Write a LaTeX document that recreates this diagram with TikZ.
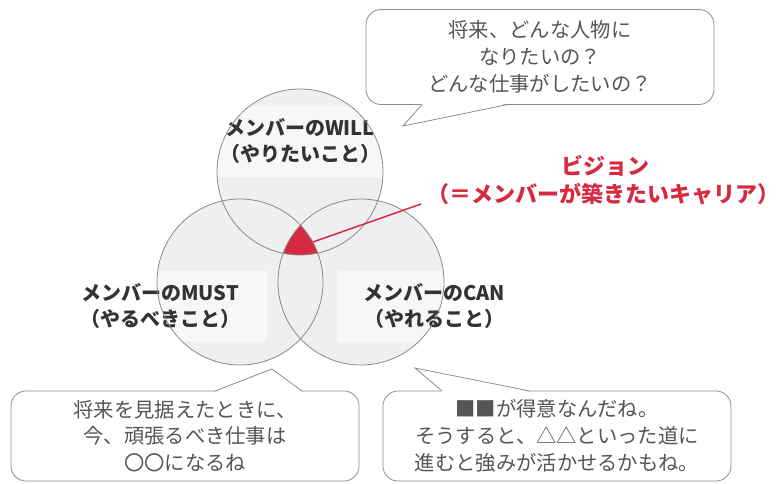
\documentclass[tikz,border=0pt]{standalone}
\usepackage{fontspec}
\setmainfont{Noto Sans CJK JP}
\definecolor{circfill}{HTML}{EFEFEF}
\definecolor{circline}{HTML}{8A8A8A}
\definecolor{lbltext}{HTML}{333333}
\definecolor{bubline}{HTML}{8C8C8C}
\definecolor{bubtext}{HTML}{555555}
\definecolor{visred}{HTML}{D62A42}
\begin{document}
\begin{tikzpicture}[x=1pt,y=-1pt,
  circfillstyle/.style={circle, minimum size=166pt, inner sep=0pt, fill=circfill},
  circborder/.style={draw=circline, line width=0.8pt},
  lblbox/.style={fill=white, fill opacity=0.55, text opacity=1, minimum height=71pt, inner sep=0pt, align=center,
     font=\fontsize{20}{25.5}\selectfont\bfseries, text=lbltext},
  bubble/.style={draw=bubline, line width=0.8pt, fill=white, rounded corners=15pt, minimum width=348pt, inner sep=0pt,
     align=center, font=\fontsize{20.3}{26.8}\selectfont, text=bubtext},
  tailline/.style={draw=bubline, line width=0.8pt, line join=miter},
  vistext/.style={text=visred, font=\fontsize{22}{28}\selectfont\bfseries, inner sep=0pt}
]
\useasboundingbox (0,0) rectangle (781,483);

% circle fills
\node[circfillstyle] (will) at (300,172) {};
\node[circfillstyle] (must) at (240,282) {};
\node[circfillstyle] (can) at (361,282) {};

% label boxes
\node[lblbox, minimum width=190pt] (willlbl) at (300,141) {メンバーのWILL\\（やりたいこと）};
\node[lblbox, minimum width=214pt] (mustlbl) at (160,306) {メンバーのMUST\\（やるべきこと）};
\node[lblbox, minimum width=194pt] (canlbl) at (434,306) {メンバーのCAN\\（やれること）};

% vision region
\begin{scope}
  \clip (will.center) circle[radius=83];
  \clip (must.center) circle[radius=83];
  \fill[visred] (can.center) circle[radius=83];
\end{scope}

% circle borders
\draw[circborder] (will.center) circle[radius=83];
\draw[circborder] (must.center) circle[radius=83];
\draw[circborder] (can.center) circle[radius=83];

% vision label and pointer
\node[vistext] (vis1) at (605,166) {ビジョン};
\node[vistext] (vis2) at (603,194) {（＝メンバーが築きたいキャリア）};
\coordinate (vistip) at (313,242);
\coordinate (visend) at (421,204);
\draw[visred, line width=1.5pt] (vistip) -- (visend);

% top bubble
\node[bubble, minimum height=95pt] (q1) at (540,57) {将来、どんな人物に\\なりたいの？\\どんな仕事がしたいの？};
\coordinate (q1a) at (422,104.5);
\coordinate (q1b) at (508,104.5);
\coordinate (q1t) at (403,126);
\fill[white] ([yshift=1pt]q1a) -- (q1t) -- ([yshift=1pt]q1b) -- cycle;
\draw[tailline] (q1a) -- (q1t) -- (q1b);

% bottom-left bubble
\node[bubble, minimum height=90pt] (q2) at (185,436) {将来を見据えたときに、\\今、頑張るべき仕事は\\〇〇になるね};
\coordinate (q2a) at (215,391);
\coordinate (q2b) at (302,391);
\coordinate (q2t) at (272,369);
\fill[white] ([yshift=-1pt]q2a) -- (q2t) -- ([yshift=-1pt]q2b) -- cycle;
\draw[tailline] (q2a) -- (q2t) -- (q2b);

% bottom-right bubble
\node[bubble, minimum height=90pt] (q3) at (557,436) {■■が得意なんだね。\\そうすると、△△といった道に\\進むと強みが活かせるかもね。};
\coordinate (q3a) at (442,391);
\coordinate (q3b) at (530,391);
\coordinate (q3t) at (415,368);
\fill[white] ([yshift=-1pt]q3a) -- (q3t) -- ([yshift=-1pt]q3b) -- cycle;
\draw[tailline] (q3a) -- (q3t) -- (q3b);
\end{tikzpicture}
\end{document}
